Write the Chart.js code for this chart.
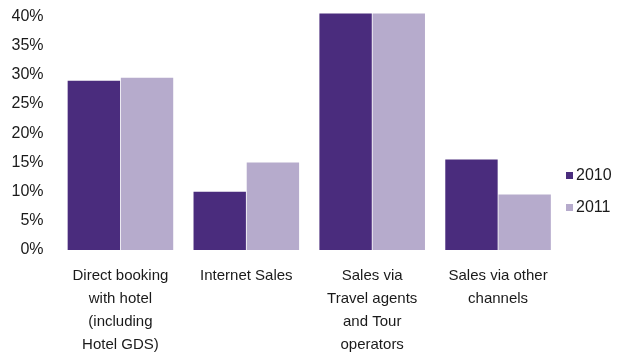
<!DOCTYPE html>
<html>
<head>
<meta charset="utf-8">
<script src="https://cdn.jsdelivr.net/npm/chart.js@4/dist/chart.umd.min.js"></script>
<style>
  body { margin: 0; background: #fff; }
  #box { width: 617px; height: 354px; }
</style>
</head>
<body>
<div id="box"><canvas id="grafico"></canvas></div>
<script>
// Dados do gráfico
const categorias = [
    ['Direct booking', 'with hotel', '(including', 'Hotel GDS)'],
    ['Internet Sales'],
    ['Sales via', 'Travel agents', 'and Tour', 'operators'],
    ['Sales via other', 'channels']
];
const anos = ['2010', '2011'];
const valores2010 = [29, 10, 40.5, 15.5];
const valores2011 = [29.5, 15, 40.5, 9.5];
const ticksY = [0, 5, 10, 15, 20, 25, 30, 35, 40];

const corEscura = '#4a2c7d';
const corClara = '#b6abcc';

// Legenda à direita, desenhada à mão
const legendaDireita = {
    id: 'legendaDireita',
    afterDraw(chart) {
        const ctx = chart.ctx;
        const area = chart.chartArea;
        ctx.save();
        ctx.font = '16px "Liberation Sans", Arial, sans-serif';
        ctx.textBaseline = 'middle';
        chart.data.datasets.forEach((ds, i) => {
            const y = 175.5 + i * 32;
            ctx.fillStyle = ds.backgroundColor;
            ctx.fillRect(area.right + 5, y - 3.5, 7, 7);
            ctx.fillStyle = '#1a1a1a';
            ctx.fillText(ds.label, area.right + 15, y + 0.5);
        });
        ctx.restore();
    }
};

let ctx = document.getElementById('grafico').getContext('2d');
let grafico = new Chart(ctx, {
    type: 'bar',
    data: {
        labels: categorias,
        datasets: [{
            label: anos[0],
            data: valores2010,
            backgroundColor: corEscura,
            categoryPercentage: 0.845,
            barPercentage: 0.985,
            clip: false
        }, {
            label: anos[1],
            data: valores2011,
            backgroundColor: corClara,
            categoryPercentage: 0.845,
            barPercentage: 0.985,
            clip: false
        }]
    },
    options: {
        responsive: true,
        maintainAspectRatio: false,
        animation: false,
        layout: {
            padding: { left: 11.5, right: 56, top: 16.5, bottom: 0 }
        },
        plugins: {
            legend: { display: false },
            tooltip: { enabled: false }
        },
        scales: {
            x: {
                afterFit: (s) => { s.paddingLeft = 0; s.paddingRight = 0; s.height = 104; },
                grid: { display: false, drawTicks: false },
                border: { display: false },
                ticks: {
                    color: '#1a1a1a',
                    padding: 14,
                    maxRotation: 0,
                    autoSkip: false,
                    font: { family: '"Liberation Sans", Arial, sans-serif', size: 15, lineHeight: 1.533 }
                }
            },
            y: {
                min: 0,
                max: 40,
                afterBuildTicks: (scale) => {
                    scale.ticks = ticksY.map(v => ({ value: v }));
                },
                afterFit: (s) => { s.paddingTop = 0; s.paddingBottom = 0; s.width = 46; },
                grid: { display: false, drawTicks: false },
                border: { display: false },
                ticks: {
                    color: '#1a1a1a',
                    padding: 14,
                    callback: (v) => v + '%',
                    font: { family: '"Liberation Sans", Arial, sans-serif', size: 16 }
                }
            }
        }
    },
    plugins: [legendaDireita]
});
</script>
</body>
</html>
